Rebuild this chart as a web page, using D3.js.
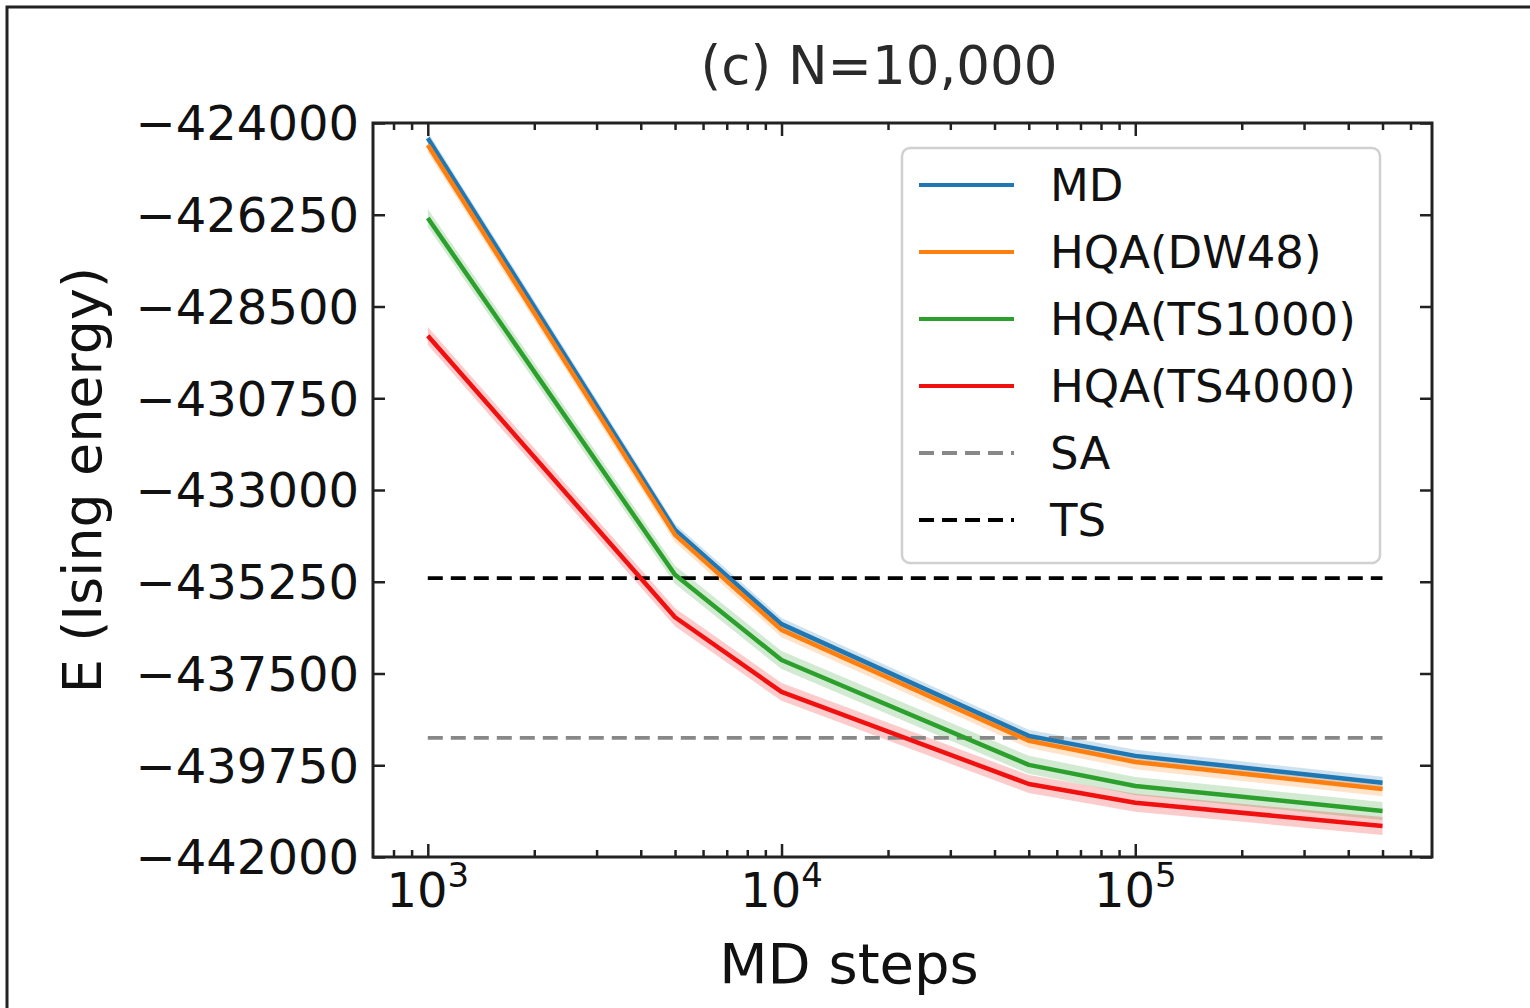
<!DOCTYPE html>
<html>
<head>
<meta charset="utf-8">
<script src="https://cdn.jsdelivr.net/npm/d3@7"></script>
<style>
  body { margin: 0; background: #fff; }
  text { font-family: "DejaVu Sans", sans-serif; fill: #111; }
</style>
</head>
<body>
<script>
// chart values
var steps = [1000, 5000, 10000, 50000, 100000, 500000];
var seriesNames = ["MD", "HQA(DW48)", "HQA(TS1000)", "HQA(TS4000)"];
var mdVals     = [-424370, -433980, -436290, -439030, -439520, -440180];
var dw48Vals   = [-424540, -434100, -436430, -439150, -439670, -440330];
var ts1000Vals = [-426330, -435080, -437170, -439740, -440260, -440870];
var ts4000Vals = [-429220, -436120, -437950, -440210, -440670, -441240];
var bandHalf = [150, 180, 220, 220];
var saLevel = -439080;
var tsLevel = -435160;
var yTicks = [-424000, -426250, -428500, -430750, -433000, -435250, -437500, -439750, -442000];
var xTicks = [1000, 10000, 100000];
var xTickExp = ["3", "4", "5"];

var colors = ["#1f77b4", "#ff7f0e", "#2ca02c", "#f01010"];

var svgWidth = 1530, svgHeight = 1008;
var margin = { top: 123, right: 98, bottom: 151, left: 373 };
var width = svgWidth - margin.left - margin.right;
var height = svgHeight - margin.top - margin.bottom;

var svg = d3.select("body").append("svg")
  .attr("width", svgWidth)
  .attr("height", svgHeight);

// outer frame (only top and left visible in the picture)
svg.append("path")
  .attr("d", "M7,1008 L7,7 L1530,7")
  .attr("fill", "none")
  .attr("stroke", "#222")
  .attr("stroke-width", 3);

var g = svg.append("g")
  .attr("transform", `translate(${margin.left},${margin.top})`);

var x = d3.scaleLog().domain([700, 690000]).range([0, width]);
var y = d3.scaleLinear().domain([-442000, -424000]).range([height, 0]);

var allSeries = [mdVals, dw48Vals, ts1000Vals, ts4000Vals];

// shaded bands
allSeries.forEach(function(vals, i) {
  var area = d3.area()
    .x((d, j) => x(steps[j]))
    .y0(d => y(d - bandHalf[i]))
    .y1(d => y(d + bandHalf[i]));
  g.append("path")
    .datum(vals)
    .attr("d", area)
    .attr("fill", colors[i])
    .attr("opacity", 0.22);
});

// reference levels
g.append("line")
  .attr("x1", x(steps[0])).attr("x2", x(steps[steps.length - 1]))
  .attr("y1", y(saLevel)).attr("y2", y(saLevel))
  .attr("stroke", "#888").attr("stroke-width", 3.8)
  .attr("stroke-dasharray", "15,8");
g.append("line")
  .attr("x1", x(steps[0])).attr("x2", x(steps[steps.length - 1]))
  .attr("y1", y(tsLevel)).attr("y2", y(tsLevel))
  .attr("stroke", "#000").attr("stroke-width", 3.8)
  .attr("stroke-dasharray", "15,8");

// lines
var line = d3.line().x((d, j) => x(steps[j])).y(d => y(d));
allSeries.forEach(function(vals, i) {
  g.append("path")
    .datum(vals)
    .attr("d", line)
    .attr("fill", "none")
    .attr("stroke", colors[i])
    .attr("stroke-width", 4.5)
    .attr("stroke-linejoin", "round");
});

// minor x ticks
var minor = [];
[100, 1000, 10000, 100000].forEach(function(dec) {
  for (var k = 2; k <= 9; k++) {
    var v = dec * k;
    if (v > 700 && v < 690000) minor.push(v);
  }
});

function tickStyle(sel) {
  sel.select(".domain").remove();
  sel.selectAll("line").attr("stroke", "#222").attr("stroke-width", 2.5);
}

// bottom / top axes
g.append("g").attr("transform", `translate(0,${height})`)
  .call(d3.axisBottom(x).tickValues(xTicks).tickSize(-13).tickFormat(""))
  .call(tickStyle);
g.append("g").attr("transform", `translate(0,${height})`)
  .call(d3.axisBottom(x).tickValues(minor).tickSize(-7).tickFormat(""))
  .call(tickStyle);
g.append("g")
  .call(d3.axisTop(x).tickValues(xTicks).tickSize(-13).tickFormat(""))
  .call(tickStyle);
g.append("g")
  .call(d3.axisTop(x).tickValues(minor).tickSize(-7).tickFormat(""))
  .call(tickStyle);

// left / right axes
g.append("g")
  .call(d3.axisLeft(y).tickValues(yTicks).tickSize(-12).tickFormat(""))
  .call(tickStyle);
g.append("g").attr("transform", `translate(${width},0)`)
  .call(d3.axisRight(y).tickValues(yTicks).tickSize(-12).tickFormat(""))
  .call(tickStyle);

// y tick labels
g.selectAll(".ylab").data(yTicks).enter().append("text")
  .attr("x", -14)
  .attr("y", d => y(d))
  .attr("dy", "0.36em")
  .attr("text-anchor", "end")
  .style("font-size", "48px")
  .text(d => "\u2212" + Math.abs(d));

// x tick labels with superscripts
xTicks.forEach(function(v, i) {
  var t = g.append("text")
    .attr("x", x(v))
    .attr("y", height + 50)
    .attr("text-anchor", "middle")
    .style("font-size", "48px");
  t.append("tspan").text("10");
  t.append("tspan").attr("dy", -20).style("font-size", "34px").text(xTickExp[i]);
});

// spines
g.append("rect")
  .attr("width", width).attr("height", height)
  .attr("fill", "none")
  .attr("stroke", "#222")
  .attr("stroke-width", 3);

// title and axis labels
svg.append("text")
  .attr("x", 879)
  .attr("y", 84)
  .attr("text-anchor", "middle")
  .style("font-size", "53px")
  .style("fill", "#2a2a2a")
  .text("(c) N=10,000");

svg.append("text")
  .attr("x", 849)
  .attr("y", 983)
  .attr("text-anchor", "middle")
  .style("font-size", "56px")
  .text("MD steps");

svg.append("text")
  .attr("transform", "translate(101,480) rotate(-90)")
  .attr("text-anchor", "middle")
  .style("font-size", "54px")
  .text("E (Ising energy)");

// legend
var legend = svg.append("g").attr("transform", "translate(902,148)");
legend.append("rect")
  .attr("width", 478).attr("height", 415)
  .attr("rx", 8)
  .attr("fill", "#fff").attr("fill-opacity", 0.85)
  .attr("stroke", "#d0d0d0").attr("stroke-width", 2.5);

var legendNames = seriesNames.concat(["SA", "TS"]);
var legendColors = colors.concat(["#888", "#000"]);
legendNames.forEach(function(name, i) {
  var ly = 37 + i * 67;
  legend.append("line")
    .attr("x1", 17).attr("x2", 112)
    .attr("y1", ly).attr("y2", ly)
    .attr("stroke", legendColors[i])
    .attr("stroke-width", 4.2)
    .attr("stroke-dasharray", i >= 4 ? "15,8" : null);
  legend.append("text")
    .attr("x", 148)
    .attr("y", ly)
    .attr("dy", "0.36em")
    .style("font-size", "45px")
    .text(name);
});
</script>
</body>
</html>
